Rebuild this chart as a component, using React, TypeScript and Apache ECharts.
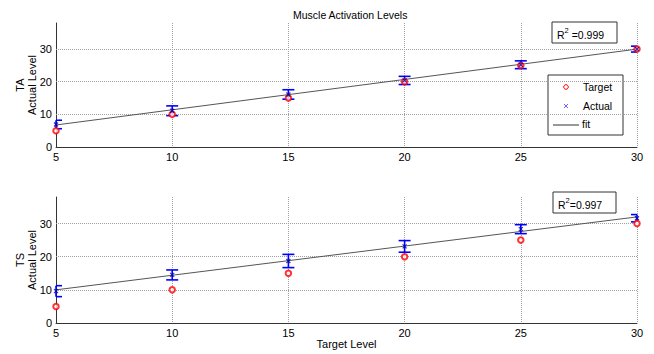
import React, { useEffect, useRef } from "react";
import * as echarts from "echarts";

const targetLevels = [5, 10, 15, 20, 25, 30];
const taTarget = [5, 10, 15, 20, 25, 30];
const taActual = [6.9, 11.1, 16.1, 20.4, 25.2, 30.0];
const taErr = [1.3, 1.5, 1.45, 1.25, 1.2, 0.9];
const taFitX = [5, 30];
const taFitY = [6.75, 30.0];
const taR2 = "0.999";

const tsTarget = [5, 10, 15, 20, 25, 30];
const tsActual = [9.6, 14.5, 18.7, 23.1, 28.3, 31.6];
const tsErr = [1.65, 1.5, 2.0, 1.75, 1.35, 1.1];
const tsFitX = [5, 30];
const tsFitY = [10.0, 32.0];
const tsR2 = "0.997";

const yTicks = [10, 20, 30];

const FONT = "Liberation Sans, Arial, Helvetica, sans-serif";
const BLUE = "#0000ff";
const RED = "#ff0000";

const xPath = "path://M0,0L10,10M10,0L0,10";

function errRender(params: any, api: any) {
  const x = api.value(0);
  const lo = api.value(1);
  const hi = api.value(2);
  const pHi = api.coord([x, hi]);
  const pLo = api.coord([x, lo]);
  const cs = params.coordSys;
  const hw = 6;
  const l = Math.max(cs.x, pHi[0] - hw);
  const r = Math.min(cs.x + cs.width, pHi[0] + hw);
  const st = { stroke: BLUE, lineWidth: 1.6 };
  return {
    type: "group",
    children: [
      { type: "line", shape: { x1: pHi[0], y1: pHi[1], x2: pLo[0], y2: pLo[1] }, style: st },
      { type: "line", shape: { x1: l, y1: pHi[1], x2: r, y2: pHi[1] }, style: st },
      { type: "line", shape: { x1: l, y1: pLo[1], x2: r, y2: pLo[1] }, style: st },
    ],
  };
}

function seriesFor(idx: number, target: number[], actual: number[], err: number[], fx: number[], fy: number[]) {
  return [
    {
      type: "line",
      name: "fit",
      xAxisIndex: idx,
      yAxisIndex: idx,
      data: fx.map((x, i) => [x, fy[i]]),
      symbol: "none",
      lineStyle: { color: "#555", width: 1 },
      z: 2,
      markLine: {
        silent: true,
        symbol: "none",
        label: { show: false },
        lineStyle: { type: "dotted", color: "#a0a0a0", width: 1 },
        data: yTicks.map((v) => ({ yAxis: v })),
        z: 1,
      },
    },
    {
      type: "custom",
      name: "err",
      xAxisIndex: idx,
      yAxisIndex: idx,
      data: targetLevels.map((x, i) => [x, actual[i] - err[i], actual[i] + err[i]]),
      renderItem: errRender,
      z: 3,
    },
    {
      type: "scatter",
      name: "Target",
      xAxisIndex: idx,
      yAxisIndex: idx,
      data: targetLevels.map((x, i) => [x, target[i]]),
      symbol: "emptyCircle",
      symbolSize: 5.5,
      itemStyle: { color: RED, borderColor: RED, borderWidth: 1 },
      z: 4,
    },
    {
      type: "scatter",
      name: "Actual",
      xAxisIndex: idx,
      yAxisIndex: idx,
      data: targetLevels.map((x, i) => [x, actual[i]]),
      symbol: xPath,
      symbolSize: 4,
      itemStyle: { color: "none", borderColor: "#0000aa", borderWidth: 1.2 },
      z: 5,
    },
  ];
}

function xAxis(idx: number, name: string) {
  return {
    type: "value",
    gridIndex: idx,
    min: 5,
    max: 30,
    interval: 5,
    name,
    nameLocation: "middle",
    nameGap: 15,
    nameTextStyle: { fontFamily: FONT, fontSize: 11, color: "#000" },
    axisLine: { lineStyle: { color: "#333", width: 1 } },
    axisTick: { show: false },
    axisLabel: { fontFamily: FONT, fontSize: 11, color: "#000", margin: 4 },
    splitLine: { show: true, lineStyle: { type: "dotted", color: "#a0a0a0", width: 1 } },
  };
}

function yAxis(idx: number, name: string) {
  return {
    type: "value",
    gridIndex: idx,
    min: 0,
    max: 38,
    interval: 10,
    name,
    nameLocation: "middle",
    nameRotate: 90,
    nameGap: 18,
    nameMoveOverlap: false,
    nameTextStyle: { fontFamily: FONT, fontSize: 11, color: "#000", lineHeight: 12 },
    axisLine: { show: true, lineStyle: { color: "#333", width: 1 } },
    axisTick: { show: false },
    axisLabel: {
      fontFamily: FONT,
      fontSize: 11,
      color: "#000",
      margin: 4,
      formatter: (v: number) => (v % 10 === 0 ? String(v) : ""),
    },
    splitLine: { show: false },
  };
}

function r2Box(x: number, y: number, w: number, h: number, val: string, gap: string) {
  return {
    type: "group",
    children: [
      { type: "rect", shape: { x, y, width: w, height: h }, style: { fill: "#fff", stroke: "#333", lineWidth: 1 } },
      {
        type: "text",
        x: x + 5,
        y: y + h / 2 + 1,
        style: {
          text: "{a|R}{s|2}{a|" + gap + "=" + val + "}",
          verticalAlign: "middle",
          rich: {
            a: { fontFamily: FONT, fontSize: 10.5, fill: "#000", lineHeight: 14, verticalAlign: "bottom" },
            s: { fontFamily: FONT, fontSize: 7.5, fill: "#000", lineHeight: 14, verticalAlign: "top" },
          },
        },
      },
    ],
  };
}

function legendBox() {
  const x = 548;
  const y = 75;
  return {
    type: "group",
    children: [
      { type: "rect", shape: { x, y, width: 75, height: 60 }, style: { fill: "#fff", stroke: "#333", lineWidth: 1 } },
      { type: "circle", shape: { cx: 566, cy: 87, r: 2.3 }, style: { fill: "none", stroke: RED, lineWidth: 1 } },
      { type: "text", x: 583, y: 87, style: { text: "Target", fontFamily: FONT, fontSize: 10.5, fill: "#000", verticalAlign: "middle" } },
      { type: "line", shape: { x1: 564, y1: 104, x2: 568, y2: 108 }, style: { stroke: "#6666ff", lineWidth: 1 } },
      { type: "line", shape: { x1: 568, y1: 104, x2: 564, y2: 108 }, style: { stroke: "#6666ff", lineWidth: 1 } },
      { type: "text", x: 583, y: 106, style: { text: "Actual", fontFamily: FONT, fontSize: 10.5, fill: "#000", verticalAlign: "middle" } },
      { type: "line", shape: { x1: 553, y1: 125, x2: 579, y2: 125 }, style: { stroke: "#333", lineWidth: 1 } },
      { type: "text", x: 582, y: 124, style: { text: "fit", fontFamily: FONT, fontSize: 10.5, fill: "#000", verticalAlign: "middle" } },
    ],
  };
}

export default function App() {
  const ref = useRef<HTMLDivElement>(null);
  useEffect(() => {
    if (!ref.current) return;
    const chart = echarts.init(ref.current, undefined, { renderer: "svg" });
    chart.setOption({
      animation: false,
      backgroundColor: "#fff",
      title: {
        text: "Muscle Activation Levels",
        left: 288,
        top: 4,
        textStyle: { fontFamily: FONT, fontSize: 10.5, fontWeight: "normal", color: "#000" },
      },
      grid: [
        { left: 56, right: 17, top: 23, height: 124 },
        { left: 56, right: 17, top: 197, height: 126 },
      ],
      xAxis: [xAxis(0, ""), xAxis(1, "Target Level")],
      yAxis: [yAxis(0, "TA\nActual Level"), yAxis(1, "TS\nActual Level")],
      series: [
        ...seriesFor(0, taTarget, taActual, taErr, taFitX, taFitY),
        ...seriesFor(1, tsTarget, tsActual, tsErr, tsFitX, tsFitY),
      ],
      graphic: [r2Box(552, 22, 65, 21, taR2, " "), r2Box(553, 192, 63, 21, tsR2, ""), legendBox()],
    });
    return () => chart.dispose();
  }, []);
  return (
    <div
      ref={ref}
      style={{ position: "fixed", left: 0, top: 0, width: 654, height: 354, background: "#fff" }}
    />
  );
}
